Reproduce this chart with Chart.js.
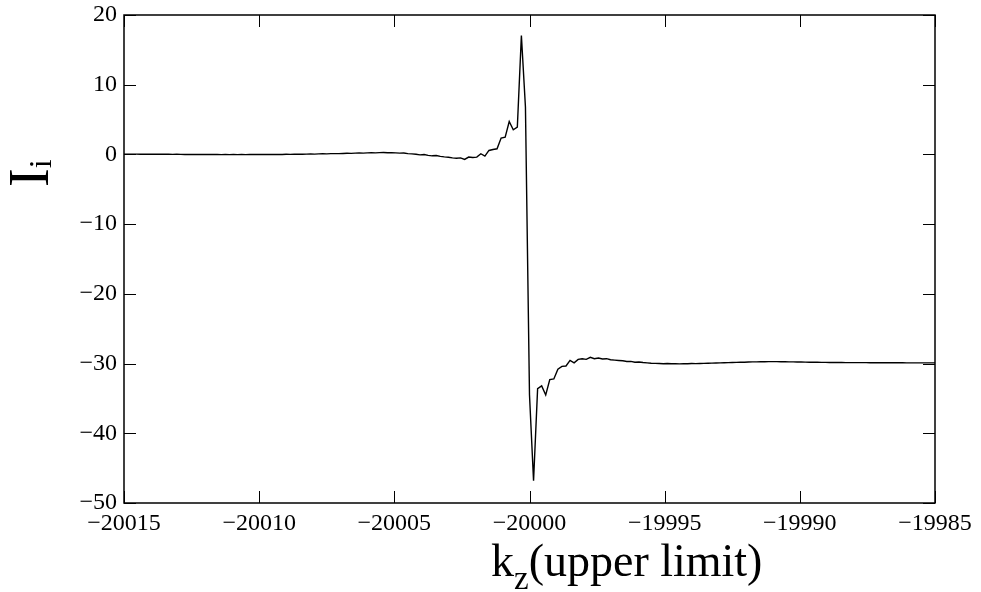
<!DOCTYPE html>
<html>
<head>
<meta charset="utf-8">
<script src="https://cdn.jsdelivr.net/npm/chart.js@4.4.1/dist/chart.umd.min.js"></script>
<style>
  html, body { margin: 0; padding: 0; background: #fff; }
  #wrap { width: 981px; height: 592px; }
</style>
</head>
<body>
<div id="wrap"><canvas id="kzChart" width="981" height="592"></canvas></div>
<script>
// sampling grid of k_z (upper limit)
const kStart = -20015;
const kStep = 0.15;

// I_i, one value per sample
const iValues = [
  0.05, 0.04, 0.05, 0.04, 0.03, 0.04, 0.03, 0.03, 0.02, 0.03,
  0.02, 0.02, 0.01, 0.02, 0.01, 0.00, 0.01, 0.00, -0.01, 0.00,
  -0.01, -0.02, -0.01, -0.02, -0.03, -0.02, -0.03, -0.02, -0.03, -0.02,
  -0.03, -0.02, -0.01, -0.02, -0.01, 0.00, -0.01, 0.00, 0.01, 0.00,
  0.02, 0.01, 0.03, 0.04, 0.03, 0.05, 0.06, 0.05, 0.08, 0.09,
  0.08, 0.11, 0.12, 0.11, 0.14, 0.16, 0.15, 0.18, 0.20, 0.19,
  0.22, 0.24, 0.22, 0.26, 0.27, 0.24, 0.25, 0.22, 0.18, 0.20,
  0.12, 0.08, 0.02, -0.06, -0.02, -0.14, -0.20, -0.16, -0.28, -0.35,
  -0.40, -0.50, -0.55, -0.50, -0.72, -0.38, -0.45, -0.38, 0.10, -0.24,
  0.57, 0.70, 0.81, 2.34, 2.49, 4.73, 3.54, 3.92, 17.07, 6.8,
  -34.5, -46.8, -33.6, -33.2, -34.5, -32.3, -32.2, -30.8, -30.4, -30.35,
  -29.55, -29.9, -29.4, -29.3, -29.4, -29.1, -29.3, -29.2, -29.35, -29.3,
  -29.45, -29.5, -29.55, -29.6, -29.7, -29.68, -29.8, -29.78, -29.85, -29.9,
  -29.95, -29.97, -30.0, -30.02, -30.0, -30.03, -30.02, -30.05, -30.03, -30.02,
  -30.0, -30.01, -29.98, -29.97, -29.95, -29.94, -29.92, -29.9, -29.88, -29.87,
  -29.85, -29.83, -29.82, -29.8, -29.78, -29.76, -29.75, -29.74, -29.73, -29.72,
  -29.72, -29.72, -29.73, -29.74, -29.75, -29.76, -29.77, -29.78, -29.79, -29.8,
  -29.81, -29.82, -29.83, -29.83, -29.84, -29.84, -29.85, -29.85, -29.86, -29.86,
  -29.86, -29.87, -29.87, -29.87, -29.88, -29.88, -29.88, -29.88, -29.89, -29.89,
  -29.89, -29.89, -29.89, -29.9, -29.9, -29.9, -29.9, -29.9, -29.9, -29.9, -29.9
];

// axis ranges / ticks
const xMin = -20015, xMax = -19985, xStep = 5;
const yMin = -50, yMax = 20, yStep = 10;

const points = iValues.map((v, i) => ({ x: kStart + i * kStep, y: v }));

const serif = '"Liberation Serif", "DejaVu Serif", serif';
const minus = v => String(v).replace('-', '\u2212');

// frame box with inward ticks on all four sides (gnuplot look)
const framePlugin = {
  id: 'frame',
  afterDraw(chart) {
    const { ctx, chartArea: a, scales } = chart;
    const len = 12;
    ctx.save();
    ctx.strokeStyle = '#000';
    ctx.lineWidth = 1.5;
    ctx.strokeRect(a.left, a.top, a.right - a.left, a.bottom - a.top);
    ctx.lineWidth = 1;
    ctx.beginPath();
    scales.x.ticks.forEach(t => {
      const px = Math.round(scales.x.getPixelForValue(t.value)) + 0.5;
      ctx.moveTo(px, a.bottom); ctx.lineTo(px, a.bottom - len);
      ctx.moveTo(px, a.top); ctx.lineTo(px, a.top + len);
    });
    scales.y.ticks.forEach(t => {
      const py = Math.round(scales.y.getPixelForValue(t.value)) + 0.5;
      ctx.moveTo(a.left, py); ctx.lineTo(a.left + len, py);
      ctx.moveTo(a.right, py); ctx.lineTo(a.right - len, py);
    });
    ctx.stroke();

    // axis titles with subscripts
    ctx.fillStyle = '#000';
    ctx.textBaseline = 'alphabetic';
    ctx.textAlign = 'left';
    let x = 491;
    ctx.font = '46px ' + serif;
    ctx.fillText('k', x, 576);
    x += ctx.measureText('k').width;
    ctx.font = '33px ' + serif;
    ctx.fillText('z', x, 589);
    x += ctx.measureText('z').width;
    ctx.font = '46px ' + serif;
    ctx.fillText('(upper limit)', x, 576);

    ctx.translate(48, 187);
    ctx.rotate(-Math.PI / 2);
    ctx.font = '56px ' + serif;
    ctx.fillText('I', 0, 0);
    const w = ctx.measureText('I').width;
    ctx.font = '32px ' + serif;
    ctx.fillText('i', w, 3);
    ctx.restore();
  }
};

const ctx = document.getElementById('kzChart').getContext('2d');
new Chart(ctx, {
  type: 'line',
  data: {
    datasets: [{
      data: points,
      borderColor: '#000',
      borderWidth: 1.4,
      pointRadius: 0,
      tension: 0,
      fill: false
    }]
  },
  options: {
    responsive: false,
    animation: false,
    devicePixelRatio: 1,
    layout: { padding: { left: 0, top: 15, right: 46, bottom: 0 } },
    plugins: { legend: { display: false }, tooltip: { enabled: false } },
    scales: {
      x: {
        type: 'linear',
        min: xMin, max: xMax,
        afterFit: s => { s.height = 89; s.paddingLeft = 0; s.paddingRight = 0; },
        grid: { display: false, drawTicks: false, tickLength: 0 },
        border: { display: false },
        ticks: {
          stepSize: xStep,
          color: '#000',
          padding: 6,
          maxRotation: 0,
          font: { family: serif, size: 24 },
          callback: v => minus(v)
        }
      },
      y: {
        type: 'linear',
        min: yMin, max: yMax,
        afterFit: s => { s.width = 124; s.paddingTop = 0; s.paddingBottom = 0; },
        grid: { display: false, drawTicks: false, tickLength: 0 },
        border: { display: false },
        ticks: {
          stepSize: yStep,
          color: '#000',
          padding: 7,
          font: { family: serif, size: 24 },
          callback: v => minus(v)
        }
      }
    }
  },
  plugins: [framePlugin]
});
</script>
</body>
</html>
